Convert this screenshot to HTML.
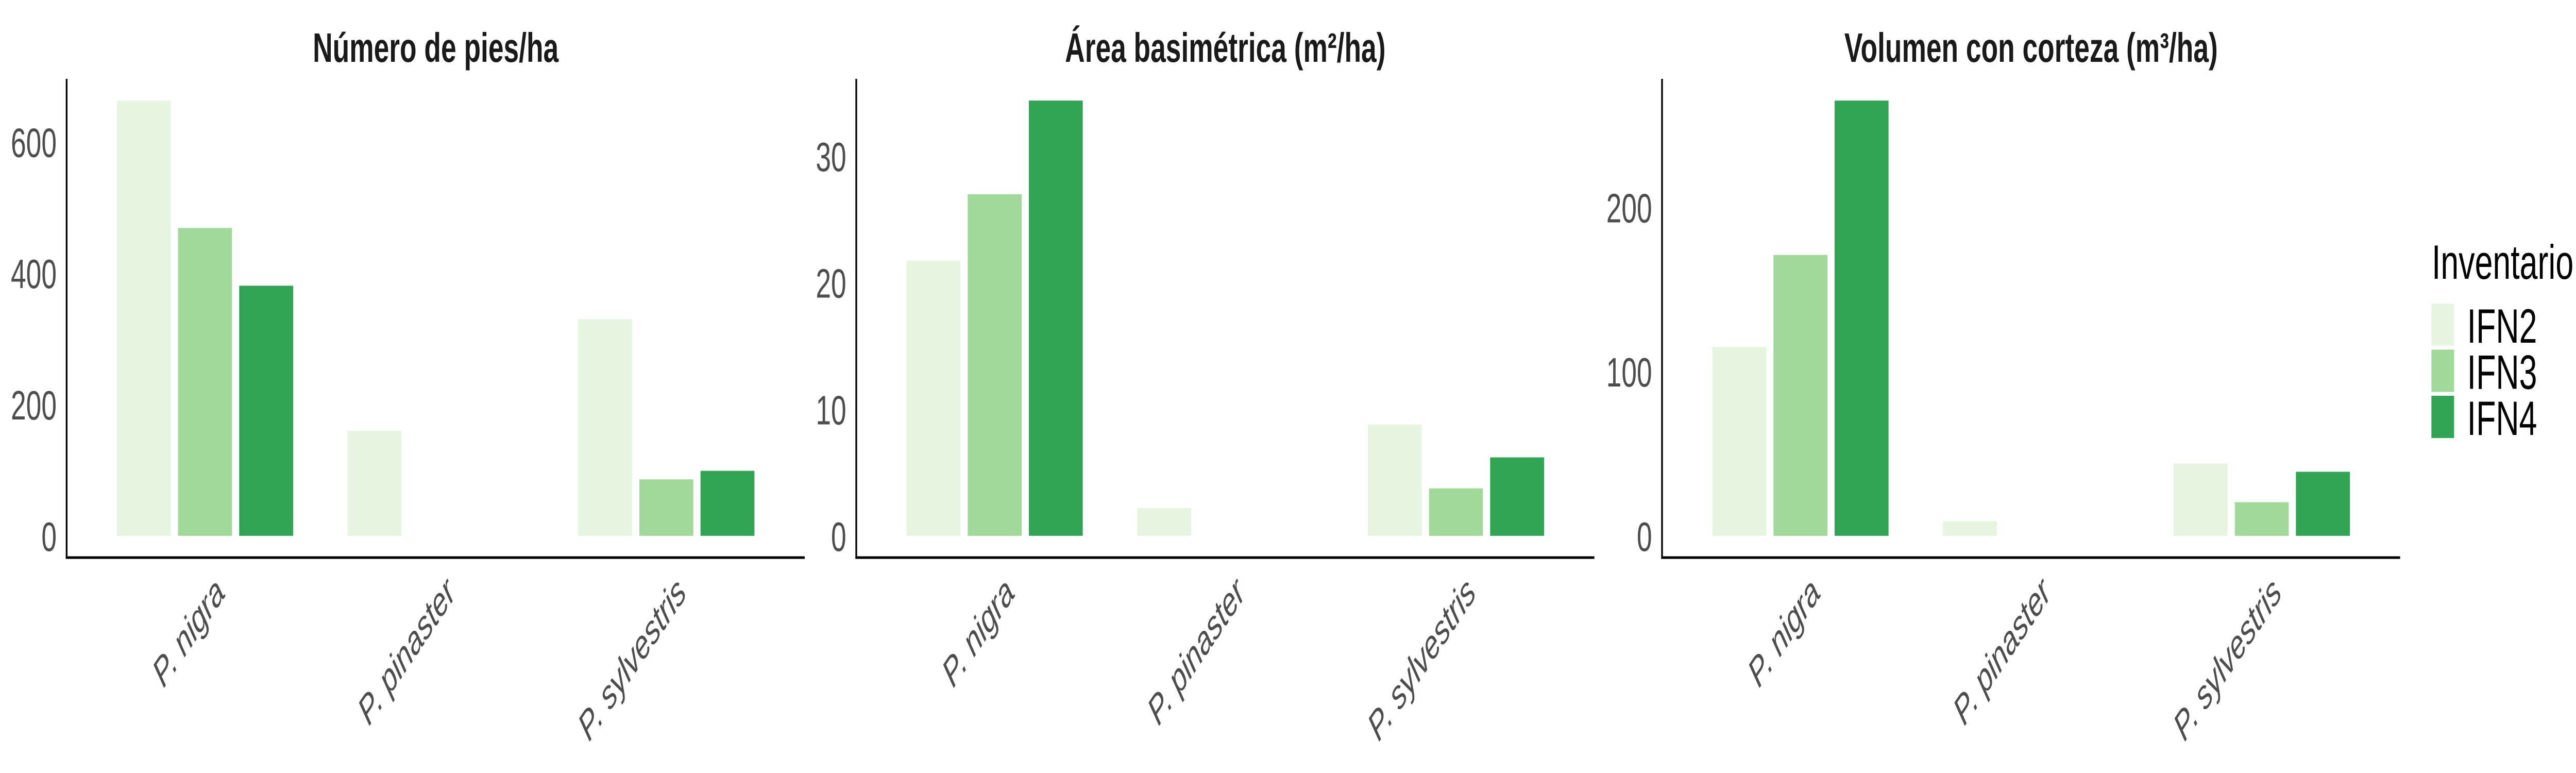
<!DOCTYPE html>
<html><head><meta charset="utf-8"><style>
html,body{margin:0;padding:0;background:#fff;width:100%;height:100%;overflow:hidden;}
svg{display:block;width:100vw;height:100vh;}
text{font-family:"Liberation Sans",Arial,sans-serif;}
</style></head><body>
<svg id="chart" viewBox="0 0 7500 1500" preserveAspectRatio="none" xmlns="http://www.w3.org/2000/svg">
<g id="panels"></g>
<g id="legend">
  <text x="7080" y="541" font-size="94" fill="#000">Inventario</text>
</g>
</svg>
<script>
const categories = ["P. nigra", "P. pinaster", "P. sylvestris"];
const seriesNames = ["IFN2", "IFN3", "IFN4"];
const panelTitles = ["Número de pies/ha", "Área basimétrica (m²/ha)", "Volumen con corteza (m³/ha)"];
const piesIFN2 = [663, 160, 330];
const piesIFN3 = [469, null, 86];
const piesIFN4 = [381, null, 99];
const areaIFN2 = [21.75, 2.2, 8.8];
const areaIFN3 = [27.0, null, 3.75];
const areaIFN4 = [34.4, null, 6.2];
const volIFN2 = [115, 9, 44];
const volIFN3 = [171, null, 20.5];
const volIFN4 = [265, null, 39];
const piesTicks = [0, 200, 400, 600];
const areaTicks = [0, 10, 20, 30];
const volTicks = [0, 100, 200];

const colors = ["#e5f5e0", "#a1d99b", "#31a354"];
const panels = [
  {title: panelTitles[0], series: [piesIFN2, piesIFN3, piesIFN4], ticks: piesTicks, x0: 194},
  {title: panelTitles[1], series: [areaIFN2, areaIFN3, areaIFN4], ticks: areaTicks, x0: 2493},
  {title: panelTitles[2], series: [volIFN2, volIFN3, volIFN4], ticks: volTicks, x0: 4839}
];
const NS = "http://www.w3.org/2000/svg";
const plotTop = 153, plotBottom = 1082, panelW = 2149;
const gPanels = document.getElementById("panels");
function mk(tag, attrs, parent) {
  const e = document.createElementNS(NS, tag);
  for (const k in attrs) e.setAttribute(k, attrs[k]);
  parent.appendChild(e);
  return e;
}
panels.forEach((p, pi) => {
  const g = mk("g", {}, gPanels);
  
  
  let max = 0;
  p.series.forEach(s => s.forEach(v => { if (v != null && v > max) max = v; }));
  const lo = -0.05 * max, hi = 1.05 * max;
  const y = v => plotBottom - (v - lo) / (hi - lo) * (plotBottom - plotTop);
  const nCat = categories.length;
  const step = panelW / (nCat + 0.2);
  const xCenter = i => p.x0 + step * (0.6 + i);
  const slot = 178, bw = 157;
  const t = mk("text", {x: p.x0 + panelW / 2, y: 120, "font-size": 80, "font-weight": "bold", "text-anchor": "middle", fill: "#1a1a1a"}, g);
  t.textContent = p.title;
  
  
  p.series.forEach((s, si) => {
    s.forEach((v, ci) => {
      if (v == null) return;
      const cx = xCenter(ci) + (si - 1) * slot;
      const r = mk("rect", {x: cx - bw / 2, y: y(v), width: bw, height: y(0) - y(v), fill: colors[si]}, g);
      
      
    });
  });
  const ya = mk("line", {x1: p.x0, y1: plotTop, x2: p.x0, y2: plotBottom + 2, stroke: "#000", "stroke-width": 5}, g);
  
  
  const xa = mk("line", {x1: p.x0 - 2.5, y1: plotBottom, x2: p.x0 + panelW, y2: plotBottom, stroke: "#000", "stroke-width": 5}, g);
  
  
  p.ticks.forEach(tv => {
    const tl = mk("text", {x: p.x0 - 29, y: y(tv) + 29, "font-size": 80, "text-anchor": "end", fill: "#4d4d4d"}, g);
    tl.textContent = tv;
    
    
  });
  categories.forEach((c, ci) => {
    const ax = xCenter(ci) + 62, ay = 1154;
    const xl = mk("text", {x: ax, y: ay, "font-size": 78, "font-style": "italic", "text-anchor": "end", fill: "#4d4d4d", transform: `rotate(-45 ${ax} ${ay})`}, g);
    xl.textContent = c;
    
    
  });
});
const gLeg = document.getElementById("legend");
seriesNames.forEach((n, i) => {
  const top = 589 + i * 89.5;
  const r = mk("rect", {x: 7079, y: top, width: 66, height: 82, fill: colors[i]}, gLeg);
  
  
  const tx = mk("text", {x: 7183, y: top + 76, "font-size": 94, fill: "#000"}, gLeg);
  tx.textContent = n;
  
  
});
</script>
</body></html>
